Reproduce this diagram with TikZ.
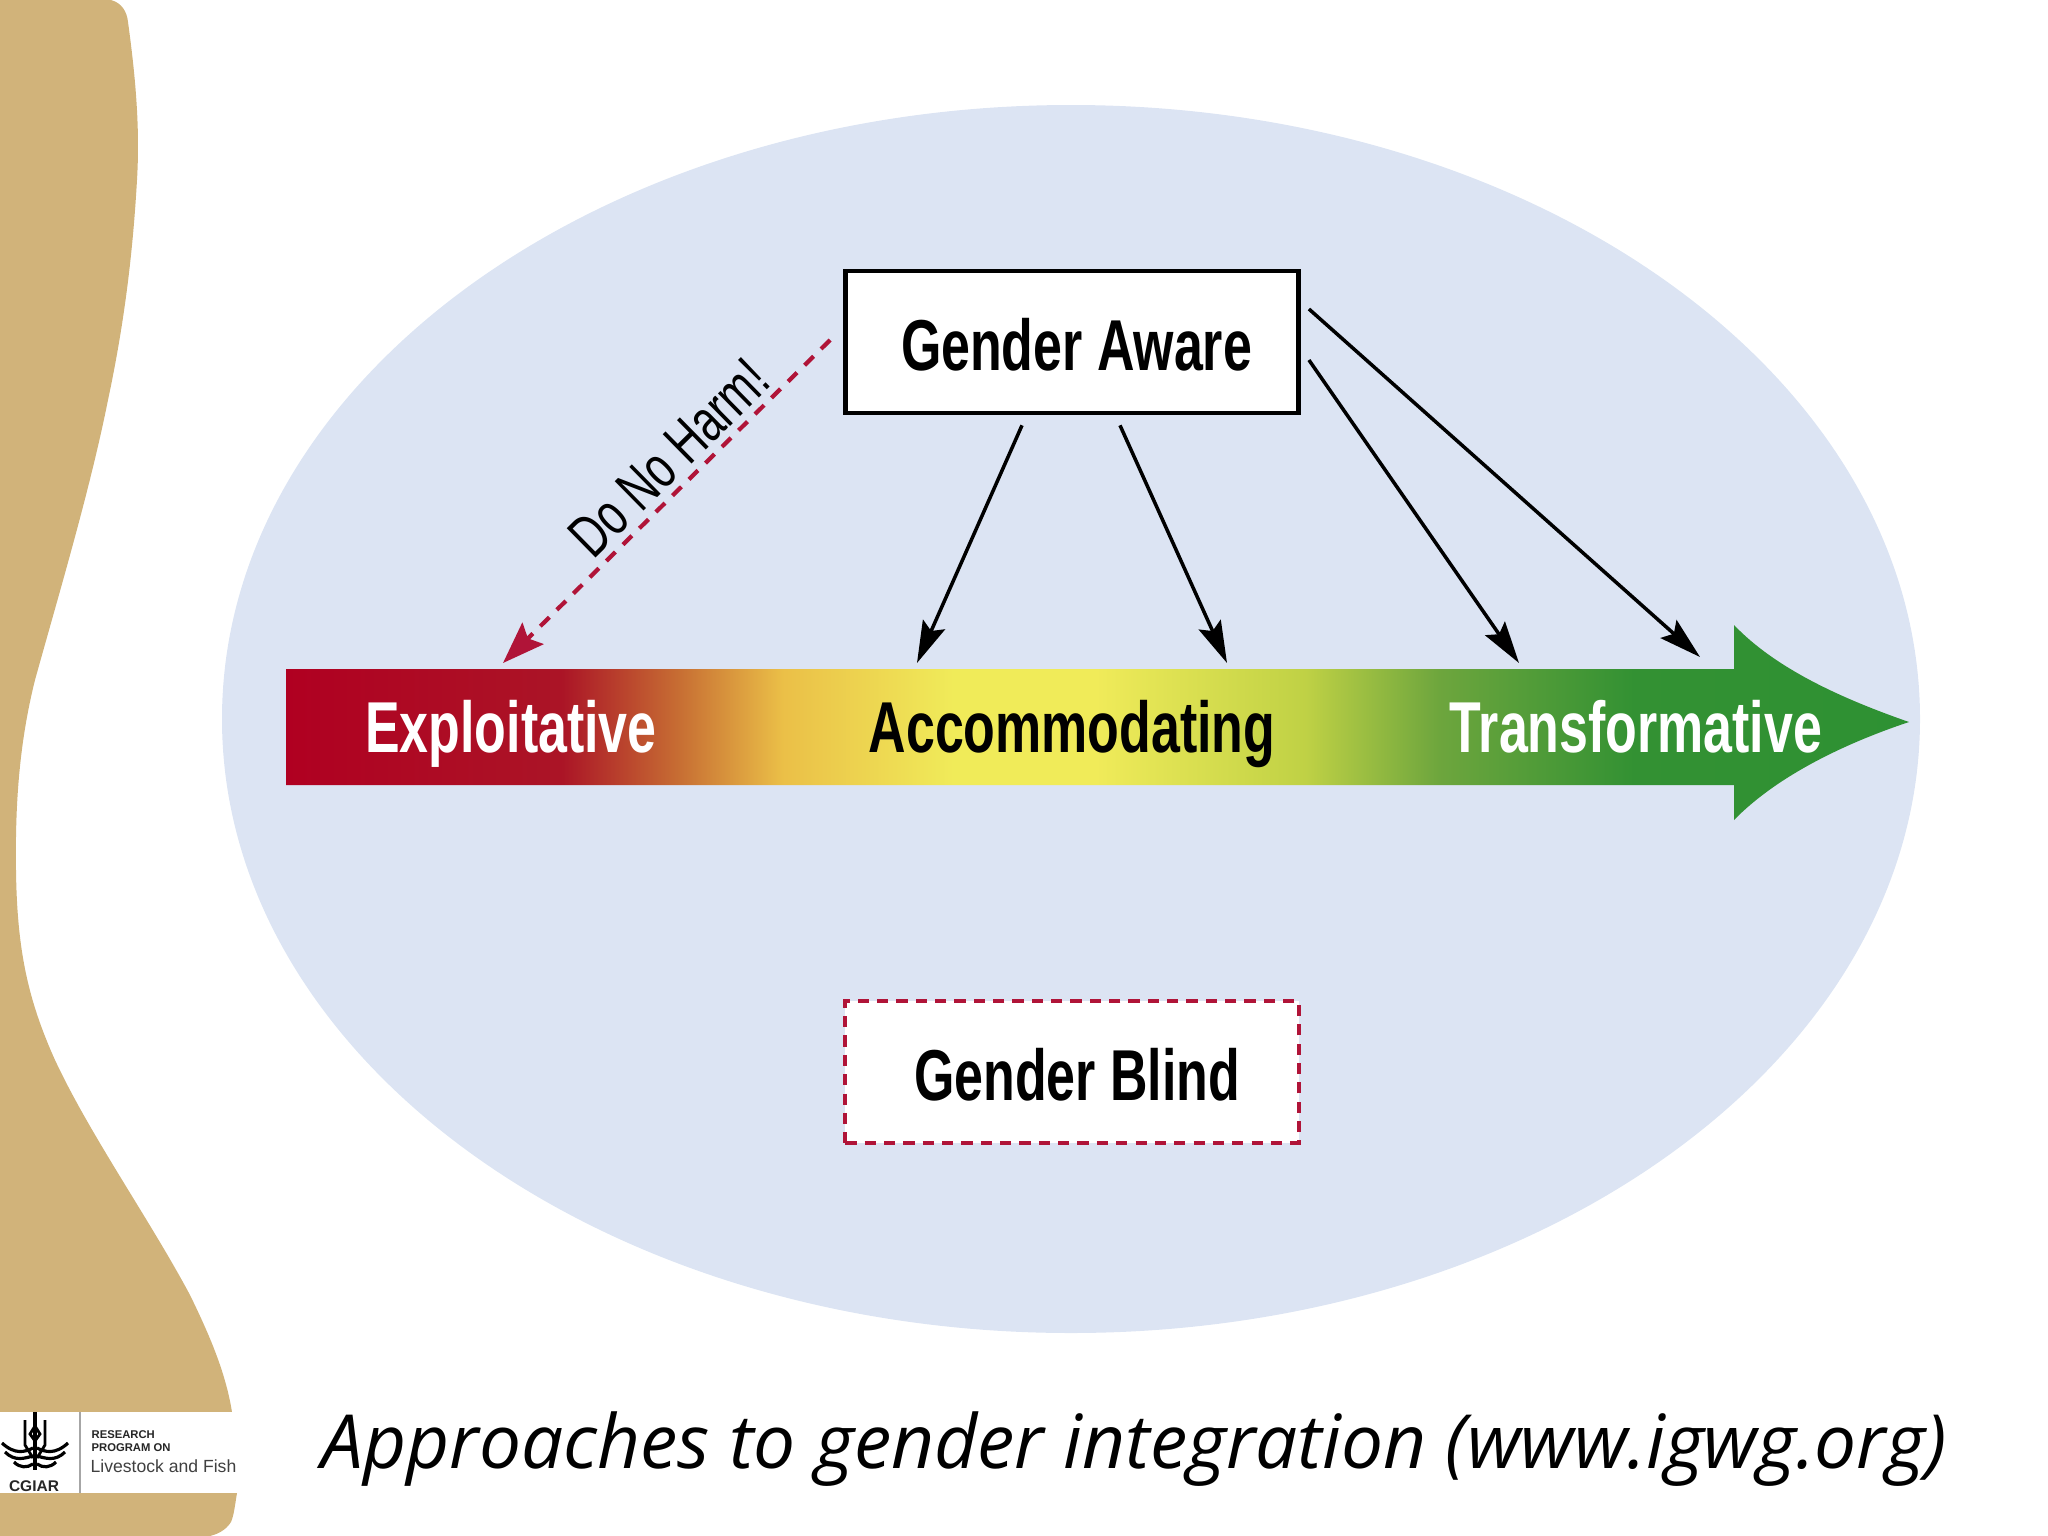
\documentclass[tikz,border=0pt]{standalone}
\usepackage{fontspec}
\usetikzlibrary{arrows.meta}
\setmainfont{Liberation Sans}
\newfontfamily\narrowfont[FakeStretch=0.72]{Liberation Sans}
\newfontfamily\captionfont{Open Sans}
\definecolor{sidetan}{RGB}{209,179,122}
\definecolor{ovalblue}{RGB}{220,228,243}
\definecolor{harmred}{RGB}{176,20,56}
\pgfdeclarehorizontalshading{scaleshade}{100bp}{
  rgb(0bp)=(.69,0,.13); rgb(25bp)=(.69,0,.13); rgb(33.5bp)=(.67,.08,.15);
  rgb(37.1bp)=(.78,.43,.2); rgb(40.3bp)=(.92,.75,.28); rgb(45.5bp)=(.94,.92,.35);
  rgb(50bp)=(.94,.92,.35); rgb(56.4bp)=(.75,.82,.27); rgb(60.5bp)=(.43,.65,.24);
  rgb(66.5bp)=(.2,.57,.2); rgb(75bp)=(.18,.57,.2); rgb(100bp)=(.18,.57,.2)}
\tikzset{
  labeltext/.style={font=\narrowfont\bfseries\fontsize{20.5}{24}\selectfont},
  levelbox/.style={minimum width=4.53cm,minimum height=1.42cm,inner sep=0pt,text height=16.5pt,labeltext},
  scalelabel/.style={anchor=base,labeltext},
  pointer/.style={-{Stealth[length=0.42cm,width=0.24cm,inset=0.07cm]},line width=1pt,black},
  harmpointer/.style={-{Stealth[length=0.42cm,width=0.3cm,inset=0.07cm]},line width=1.2pt,harmred,dash pattern=on 3.6pt off 3pt},
  logotiny/.style={anchor=west,inner sep=0pt,font=\bfseries\fontsize{3.2}{4}\selectfont,text=black!85}
}
\begin{document}
\begin{tikzpicture}[x=0.01cm,y=-0.01cm]
            \useasboundingbox (0,0) rectangle (2048,1536);
            \fill[sidetan] (0,0)--(111,0) .. controls (122,3) and (127,12) .. (128,22)
                .. controls (136,80) and (140,130) .. (137,180)
                .. controls (133,250) and (125,320) .. (108,400)
                .. controls (90,490) and (60,590) .. (35,680)
                .. controls (20,740) and (15,800) .. (16,870)
                .. controls (17,950) and (28,1000) .. (55,1060)
                .. controls (90,1135) and (150,1220) .. (190,1295)
                .. controls (212,1340) and (226,1375) .. (232,1412)
                --(237,1493) .. controls (235,1505) and (234,1515) .. (231,1522)
                .. controls (226,1530) and (218,1534) .. (210,1536)--(0,1536)--cycle;
            \fill[white] (0,1412) rectangle (240,1493);
            \fill[ovalblue] (1071,719) ellipse [x radius=849, y radius=614];
            \shade[shading=scaleshade] (286,669)--(1734,669)--(1734,625)
                .. controls (1775,668) and (1840,698) .. (1909,722)
                .. controls (1840,745) and (1775,778) .. (1734,820)
                --(1734,785)--(286,785)--cycle;
            \node[levelbox,fill=white,draw=black,line width=1.3pt] (awarebox) at (1072,342) {\hspace*{0.09cm}Gender Aware};
            \node[levelbox,fill=white,draw=harmred,line width=1.1pt,dash pattern=on 3.2pt off 2.3pt] (blindbox) at (1072,1072) {\hspace*{0.1cm}Gender Blind};
            \node[scalelabel,text=white] (exploitlabel) at (511,752) {Exploitative};
            \node[scalelabel,text=black] (accomlabel) at (1072,752) {Accommodating};
            \node[scalelabel,text=white] (translabel) at (1636,752) {Transformative};
            \coordinate (exploitend) at (503,663);
            \coordinate (accomendleft) at (917,663);
            \coordinate (accomendright) at (1227,663);
            \coordinate (transendleft) at (1519,663);
            \coordinate (transendright) at (1700,657);
            \draw[harmpointer] ([shift={(-13,-2)}]awarebox.west)--(exploitend);
            \draw[pointer] ([shift={(-50,10)}]awarebox.south)--(accomendleft);
            \draw[pointer] ([shift={(48,10)}]awarebox.south)--(accomendright);
            \draw[pointer] ([shift={(8,18)}]awarebox.east)--(transendleft);
            \draw[pointer] ([shift={(8,-33)}]awarebox.east)--(transendright);
            \node[rotate=44.5,font=\narrowfont\fontsize{17}{20}\selectfont] (harmlabel) at (669,458) {Do No Harm!};
            \node[font=\captionfont\itshape\fontsize{21.25}{25}\selectfont] (captionlabel) at (1134,1449) {Approaches to gender integration (www.igwg.org)};
            \draw[black!35,line width=0.8pt] (80,1412)--(80,1493);
            \draw[black,line width=1pt] (35,1412)--(35,1470);
            \draw[black,line width=0.8pt] (25,1420)--(25,1445)--(33,1458);
            \draw[black,line width=0.8pt] (45,1420)--(45,1445)--(37,1458);
            \draw[black,line width=0.8pt] (35,1426)--(40,1434)--(35,1441)--(30,1434)--cycle;
            \draw[black,line width=0.9pt] (2,1443) .. controls (15,1455) and (25,1452) .. (33,1448);
            \draw[black,line width=0.9pt] (5,1452) .. controls (15,1462) and (25,1458) .. (33,1456);
            \draw[black,line width=0.9pt] (14,1462) .. controls (20,1468) and (27,1468) .. (33,1464);
            \draw[black,line width=0.9pt] (68,1443) .. controls (55,1455) and (45,1452) .. (37,1448);
            \draw[black,line width=0.9pt] (65,1452) .. controls (55,1462) and (45,1458) .. (37,1456);
            \draw[black,line width=0.9pt] (56,1462) .. controls (50,1468) and (43,1468) .. (37,1464);
            \node[inner sep=0pt,font=\bfseries\fontsize{4.4}{5}\selectfont,text=black!85] (cgiarlabel) at (34,1486) {CGIAR};
            \node[logotiny] (researchlabel) at (91,1435) {RESEARCH};
            \node[logotiny] (programlabel) at (91,1448) {PROGRAM ON};
            \node[anchor=west,inner sep=0pt,font=\fontsize{5}{6}\selectfont,text=black!75] (fishlabel) at (90,1466) {Livestock and Fish};
\end{tikzpicture}
\end{document}
